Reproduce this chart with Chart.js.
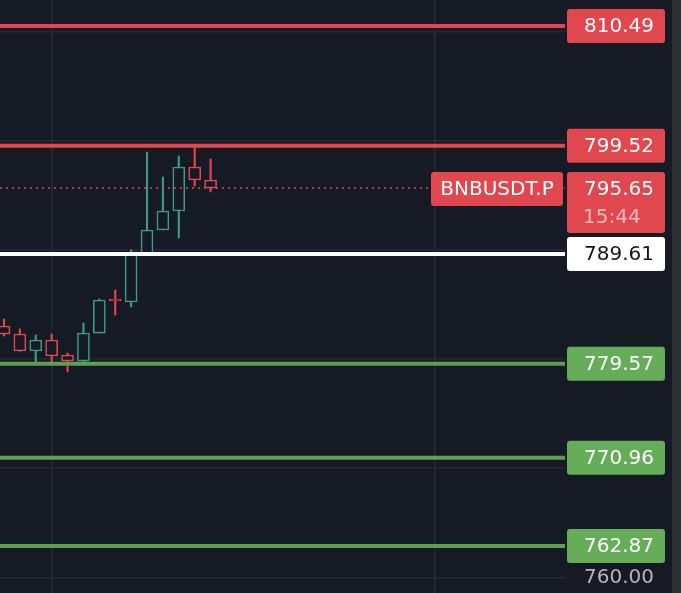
<!DOCTYPE html>
<html>
<head>
<meta charset="utf-8">
<script src="https://cdn.jsdelivr.net/npm/chart.js@4.4.1/dist/chart.umd.min.js"></script>
<style>
  html, body { margin: 0; padding: 0; background: #161a25; }
  #wrap { width: 681px; height: 593px; position: relative; }
</style>
</head>
<body>
<div id="wrap"><canvas id="myChart"></canvas></div>
<script>
// candles, oldest first
const candleIndex = [0, 1, 2, 3, 4, 5, 6, 7, 8, 9, 10, 11, 12, 13];
const opens  = [783.02, 782.28, 780.73, 781.73, 780.36, 779.81, 782.37, 785.49, 785.22, 789.61, 791.81, 793.55, 797.58, 796.39];
const highs  = [783.66, 782.74, 782.19, 782.28, 780.54, 783.29, 785.49, 786.31, 789.98, 798.95, 796.66, 798.59, 799.35, 798.31];
const lows   = [782.10, 780.70, 779.72, 779.72, 778.81, 779.54, 782.37, 784.02, 784.76, 789.61, 791.81, 791.08, 795.84, 795.29];
const closes = [782.28, 780.73, 781.73, 780.27, 779.81, 782.37, 785.40, 785.31, 789.61, 791.81, 793.55, 797.58, 796.39, 795.65];

// horizontal levels
const resistLevels = [810.49, 799.52];
const pivotLevel = 789.61;
const supportLevels = [779.57, 770.96, 762.87];
const lastPrice = 795.65;
const symbol = 'BNBUSDT.P';
const countdown = '15:44';

// axes
const yTicks = [760, 770, 780, 790, 800, 810];
const timeGridX = [3, 27.125];
const xMin = -0.25, xMax = 35.3;
const yMin = 758.57, yMax = 812.87;

const BG = '#161a25';
const GRID = '#262a35';
const RED = '#e0474f';
const TEAL = '#3e9a86';
const GREEN_LBL = '#66ad5a';
const GREEN_LINE = '#5f9e54';

const candleColors = candleIndex.map(i => closes[i] >= opens[i] ? TEAL : RED);

function levelLine(v, color, width, dash) {
  return {
    type: 'line',
    data: [{x: xMin, y: v}, {x: xMax, y: v}],
    borderColor: color,
    borderWidth: width,
    borderDash: dash || [],
    pointRadius: 0,
    order: 0
  };
}

const datasets = [
  {
    type: 'bar',
    label: 'body',
    data: candleIndex.map(i => ({x: i, y: [opens[i], closes[i]]})),
    backgroundColor: BG,
    borderColor: candleColors,
    borderWidth: 1.6,
    borderSkipped: false,
    barThickness: 12,
    grouped: false,
    order: 1
  },
  {
    type: 'bar',
    label: 'wick',
    data: candleIndex.map(i => ({x: i, y: [lows[i], highs[i]]})),
    backgroundColor: candleColors,
    borderWidth: 0,
    barThickness: 1.5,
    grouped: false,
    order: 2
  },
  levelLine(resistLevels[0], RED, 4),
  levelLine(resistLevels[1], RED, 4),
  levelLine(pivotLevel, '#ffffff', 4),
  levelLine(supportLevels[0], GREEN_LINE, 4),
  levelLine(supportLevels[1], GREEN_LINE, 4),
  levelLine(supportLevels[2], GREEN_LINE, 4),
  levelLine(lastPrice, RED, 1.5, [2, 4])
];

const FONT = '20px "DejaVu Sans"';

function roundBox(ctx, x, y, w, h, r, color) {
  ctx.fillStyle = color;
  ctx.beginPath();
  ctx.roundRect(x, y, w, h, r);
  ctx.fill();
}

const bgPlugin = {
  id: 'bg',
  beforeDraw(chart) {
    const ctx = chart.ctx;
    ctx.save();
    ctx.fillStyle = BG;
    ctx.fillRect(0, 0, chart.width, chart.height);
    ctx.restore();
  }
};

const labelPlugin = {
  id: 'priceLabels',
  afterDraw(chart) {
    const ctx = chart.ctx;
    const y = chart.scales.y;
    const left = chart.chartArea.right + 2;
    const w = 98, h = 34;
    ctx.save();
    ctx.font = FONT;
    ctx.textBaseline = 'middle';
    ctx.textAlign = 'right';

    const tag = (v, bg, fg) => {
      const py = y.getPixelForValue(v);
      roundBox(ctx, left, py - h / 2, w, h, 3, bg);
      ctx.fillStyle = fg;
      ctx.fillText(v.toFixed(2), left + w - 11, py + 1);
    };
    resistLevels.forEach(v => tag(v, RED, '#ffffff'));
    tag(pivotLevel, '#ffffff', '#131722');
    supportLevels.forEach(v => tag(v, GREEN_LBL, '#ffffff'));

    // last price + countdown
    const py = y.getPixelForValue(lastPrice);
    roundBox(ctx, left, py - 16, w, 61, 3, RED);
    ctx.fillStyle = '#ffffff';
    ctx.fillText(lastPrice.toFixed(2), left + w - 11, py + 2);
    ctx.textAlign = 'left';
    ctx.fillStyle = 'rgba(255,255,255,0.62)';
    ctx.fillText(countdown, left + 16, py + 30);

    // symbol tag
    roundBox(ctx, chart.chartArea.right - 134, py - 16, 132, 34, 3, RED);
    ctx.fillStyle = '#ffffff';
    ctx.textAlign = 'center';
    ctx.fillText(symbol, chart.chartArea.right - 68, py + 2);

    // window edge strip
    ctx.fillStyle = '#2e2f31';
    ctx.fillRect(672, 0, chart.width - 672, chart.height);
    ctx.restore();
  }
};

const config = {
  data: { datasets },
  options: {
    responsive: false,
    animation: false,
    layout: { padding: { left: 0, right: 27, top: 0, bottom: 0 } },
    plugins: { legend: { display: false }, tooltip: { enabled: false } },
    scales: {
      x: {
        type: 'linear',
        min: xMin,
        max: xMax,
        offset: false,
        grid: { color: GRID, lineWidth: 1.5, drawTicks: false, offset: false },
        border: { display: false },
        ticks: { display: false },
        afterBuildTicks: s => { s.ticks = timeGridX.map(v => ({value: v})); }
      },
      y: {
        position: 'right',
        min: yMin,
        max: yMax,
        grid: { color: GRID, lineWidth: 1.5, drawTicks: false },
        border: { display: false },
        ticks: {
          color: '#b2b5be',
          font: { family: 'DejaVu Sans', size: 20 },
          crossAlign: 'far',
          padding: 0,
          callback: v => v.toFixed(2)
        },
        afterBuildTicks: s => { s.ticks = yTicks.map(v => ({value: v})); },
        afterFit: s => { s.width = 89; s.paddingTop = 0; s.paddingBottom = 0; }
      }
    }
  },
  plugins: [bgPlugin, labelPlugin]
};

const canvas = document.getElementById('myChart');
canvas.width = 681;
canvas.height = 593;
canvas.style.width = '681px';
canvas.style.height = '593px';
var myChart = new Chart(canvas, config);
</script>
</body>
</html>
